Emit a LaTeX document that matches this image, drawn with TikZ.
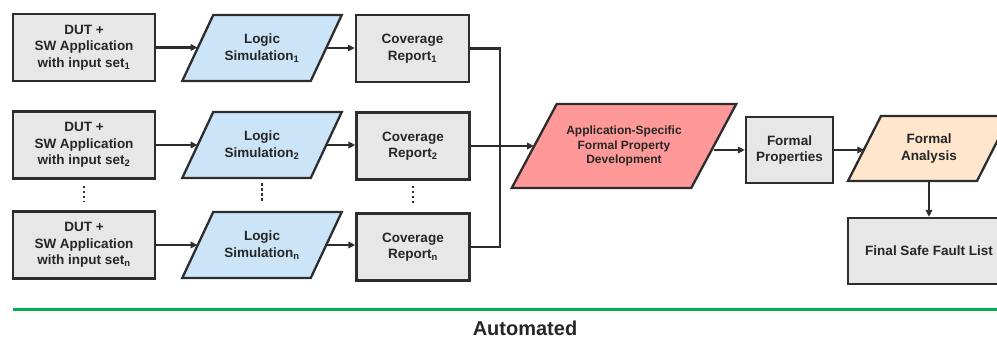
\documentclass[tikz,border=0pt]{standalone}
\usepackage{fontspec}
\setmainfont{Liberation Sans}
\usetikzlibrary{arrows.meta,calc}
\definecolor{boxgray}{RGB}{231,231,231}
\definecolor{edge}{RGB}{45,45,45}
\definecolor{ink}{RGB}{38,38,38}
\definecolor{simblue}{RGB}{204,228,247}
\definecolor{devred}{RGB}{255,153,153}
\definecolor{fapeach}{RGB}{255,230,204}
\definecolor{autogreen}{RGB}{0,176,80}
\newcommand\mypgram[9][]{%
  \draw[pg, fill=#8] ({#3-#5/2+#7/2},{#4-#6/2}) -- ({#3+#5/2+#7/2},{#4-#6/2}) -- ({#3+#5/2-#7/2},{#4+#6/2}) -- ({#3-#5/2-#7/2},{#4+#6/2}) -- cycle;
  \node[ptext, minimum width=#5, minimum height=#6, #1] (#2) at (#3,#4) {#9};
}
\begin{document}
\begin{tikzpicture}[x=1pt,y=-1pt,
  txtfont/.style={font=\fontsize{13.5}{16.4}\selectfont\bfseries},
  box/.style={draw=edge, line width=2.3pt, fill=boxgray, text=ink, align=center, txtfont, inner sep=0pt},
  ptext/.style={text=ink, align=center, txtfont, inner sep=0pt},
  pg/.style={draw=edge, line width=2.3pt, line join=miter},
  conn/.style={draw=edge, line width=2.3pt},
  arr/.style={conn, -{Triangle[length=7pt,width=6.5pt]}},
  dots/.style={draw=edge, line width=2.6pt, dash pattern=on 2.4pt off 2.6pt},
]
\useasboundingbox (0,0) rectangle (997,338);
\clip (0,0) rectangle (997,338);

% column 1
\node[box, minimum width=142, minimum height=67] (D1) at (84,47.5) {DUT +\\SW Application\\with input set\textsubscript{1}};
\node[box, minimum width=142, minimum height=67] (D2) at (84,145) {DUT +\\SW Application\\with input set\textsubscript{2}};
\node[box, minimum width=142, minimum height=67] (Dn) at (84,245) {DUT +\\SW Application\\with input set\textsubscript{n}};

% column 2
\mypgram{L1}{262}{48}{128.5}{66}{31}{simblue}{Logic\\Simulation\textsubscript{1}}
\mypgram{L2}{262}{145}{128.5}{66}{31}{simblue}{Logic\\Simulation\textsubscript{2}}
\mypgram{Ln}{262}{245}{128.5}{66}{31}{simblue}{Logic\\Simulation\textsubscript{n}}

% column 3
\node[box, minimum width=113, minimum height=67] (C1) at (412.5,48.5) {Coverage\\Report\textsubscript{1}};
\node[box, minimum width=113, minimum height=67] (C2) at (413,146) {Coverage\\Report\textsubscript{2}};
\node[box, minimum width=113, minimum height=67] (Cn) at (413,247) {Coverage\\Report\textsubscript{n}};

% right part
\mypgram[font=\fontsize{12}{14.6}\selectfont\bfseries]{App}{624}{146}{179.5}{84}{45}{devred}{Application-Specific\\Formal Property\\Development}
\node[box, minimum width=87, minimum height=66] (FP) at (789.5,150) {Formal\\Properties};
\mypgram{FA}{929}{148.5}{129}{65}{33}{fapeach}{Formal\\Analysis}
\node[box, minimum width=162, minimum height=66] (FL) at (929,251) {Final Safe Fault List};

% vertical ellipses
\draw[dots] ([yshift=-6]D2.south) -- ([yshift=8]Dn.north);
\draw[dots] ([yshift=-5]L2.south) -- ([yshift=9]Ln.north);
\draw[dots] ([yshift=-5]C2.south) -- ([yshift=9]Cn.north);

% connectors
\draw[arr] (D1.east) -- (D1.east -| L1.west);
\draw[arr] (D2.east) -- (D2.east -| L2.west);
\draw[arr] (Dn.east) -- (Dn.east -| Ln.west);
\draw[arr] (L1.east) -- (L1.east -| C1.west);
\draw[arr] (L2.east) -- (L2.east -| C2.west);
\draw[arr] (Ln.east) -- (Ln.east -| Cn.west);

\coordinate (J) at (500,146);
\draw[conn] (C1.east) -| (J);
\draw[conn] (Cn.east) -| (J);
\draw[arr] (C2.east) -- (C2.east -| App.west);
\draw[arr] (App.east |- FP.west) -- (FP.west);
\draw[arr] (FP.east) -- (FP.east -| FA.west);
\draw[arr] (FA.south) -- (FL.north);

% automated bar
\draw[autogreen, line width=3pt] (13,309) -- (997,309);
\node[text=ink, font=\fontsize{20}{24}\selectfont\bfseries, inner sep=0pt] (auto) at (525,328) {Automated};
\end{tikzpicture}
\end{document}
